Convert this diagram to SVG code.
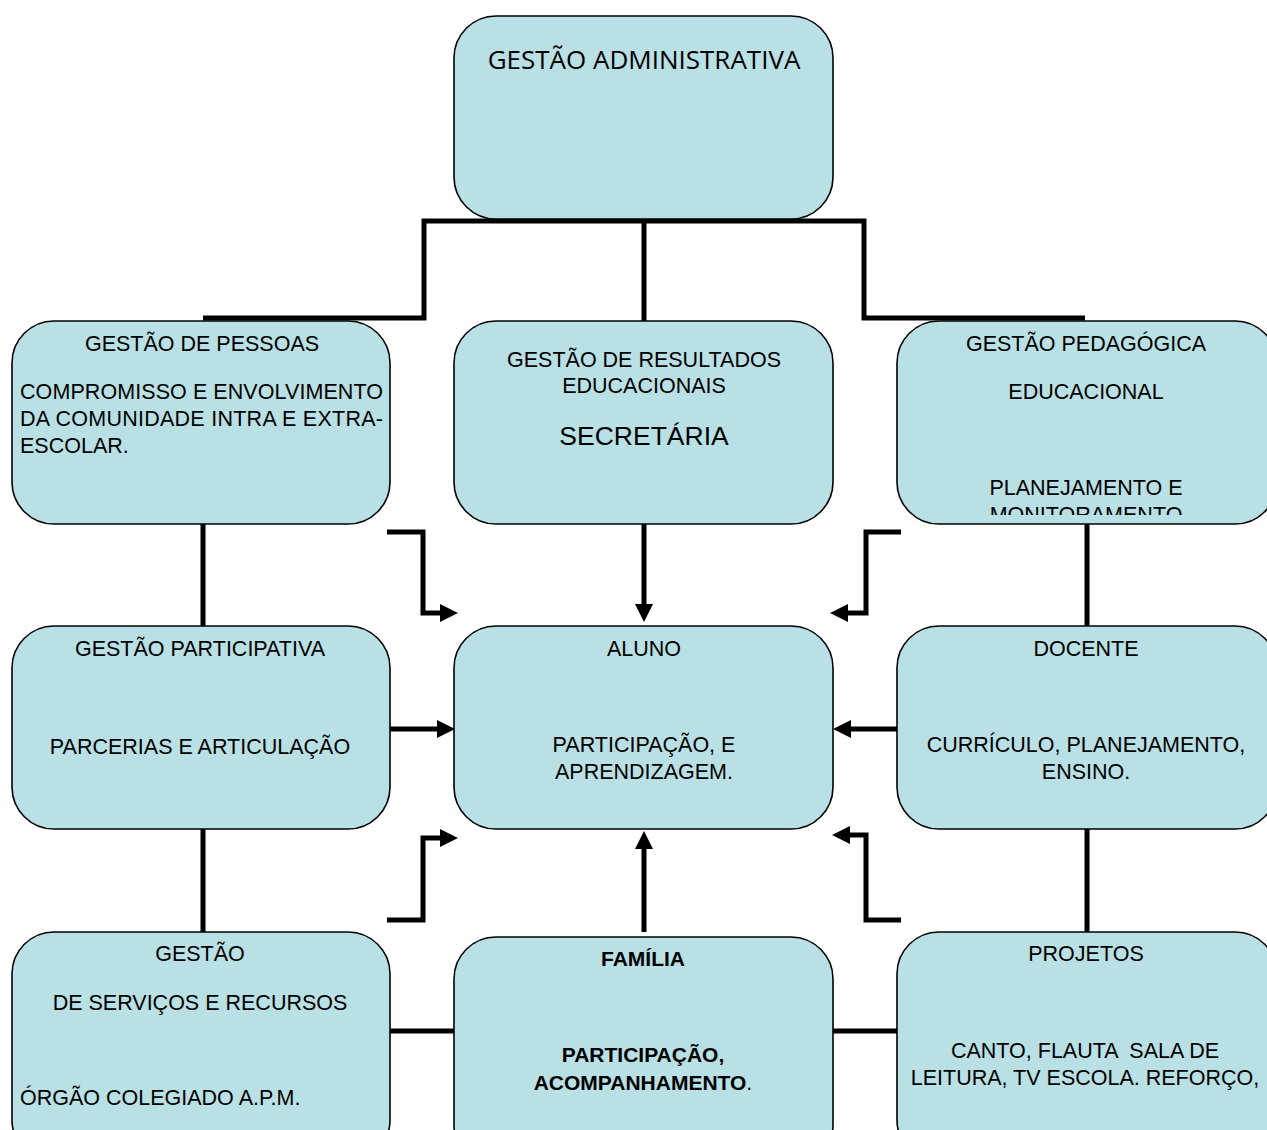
<svg xmlns="http://www.w3.org/2000/svg" width="1267" height="1130" viewBox="0 0 1267 1130">
<style>
.box{fill:#b9e0e4;stroke:#000;stroke-width:1.6}
.t{font-family:"Liberation Sans",Arial,sans-serif;font-size:21.5px;fill:#000}
.c{text-anchor:middle}
.b{font-weight:bold;font-size:21px}
.ln{fill:none;stroke:#000;stroke-width:5}
.ah{fill:#000}
</style>
<defs>
<clipPath id="clipR"><rect x="897" y="321" width="380" height="194"/></clipPath>
</defs>
<rect width="1267" height="1130" fill="#fff"/>
<g id="connectors">
<path class="ln" d="M203,318 H424 V221 H864 V318 H1085"/>
<path class="ln" d="M644,221 V321"/>
<path class="ln" d="M203,524 V626 M203,829 V932 M1087,524 V626 M1087,829 V932"/>
<path class="ln" d="M644,524 V606"/>
<polygon class="ah" points="635,604 653,604 644,622"/>
<path class="ln" d="M644,932 V847"/>
<polygon class="ah" points="635,849 653,849 644,831"/>
<path class="ln" d="M387,532 H423 V613 H443"/>
<polygon class="ah" points="440,604 440,622 458,613"/>
<path class="ln" d="M901,532 H866 V613 H846"/>
<polygon class="ah" points="848,604 848,622 830,613"/>
<path class="ln" d="M387,920 H423 V838 H443"/>
<polygon class="ah" points="440,829 440,847 458,838"/>
<path class="ln" d="M901,920 H866 V835 H848"/>
<polygon class="ah" points="850,826 850,844 832,835"/>
<path class="ln" d="M390,729 H439"/>
<polygon class="ah" points="437,720 437,738 455,729"/>
<path class="ln" d="M897,729 H849"/>
<polygon class="ah" points="851,720 851,738 833,729"/>
<path class="ln" d="M390,1031 H454 M833,1031 H897"/>
</g>
<g id="gestao-administrativa">
<rect class="box" x="454" y="16" width="379" height="203" rx="42"/>
<text x="644" y="69" class="c" style="font-family:'Open Sans','Liberation Sans',sans-serif;font-size:26px">GESTÃO ADMINISTRATIVA</text>
</g>
<g id="gestao-pessoas">
<rect class="box" x="12" y="321" width="378" height="203" rx="42"/>
<text x="202" y="351" class="t c">GESTÃO DE PESSOAS</text>
<text x="20" y="399" class="t" textLength="363" lengthAdjust="spacing">COMPROMISSO E ENVOLVIMENTO</text>
<text x="20" y="426" class="t" textLength="363" lengthAdjust="spacing">DA COMUNIDADE INTRA E EXTRA-</text>
<text x="20" y="453" class="t">ESCOLAR.</text>
</g>
<g id="gestao-resultados">
<rect class="box" x="454" y="321" width="379" height="203" rx="42"/>
<text x="644" y="367" class="t c">GESTÃO DE RESULTADOS</text>
<text x="644" y="393" class="t c">EDUCACIONAIS</text>
<text x="644" y="445" class="t c" style="font-size:26.5px">SECRETÁRIA</text>
</g>
<g id="gestao-pedagogica">
<rect class="box" x="897" y="321" width="380" height="203" rx="42"/>
<text x="1086" y="351" class="t c">GESTÃO PEDAGÓGICA</text>
<text x="1086" y="399" class="t c">EDUCACIONAL</text>
<g clip-path="url(#clipR)">
<text x="1086" y="495" class="t c">PLANEJAMENTO E</text>
<text x="1086" y="522" class="t c">MONITORAMENTO</text>
</g>
</g>
<g id="gestao-participativa">
<rect class="box" x="12" y="626" width="378" height="203" rx="42"/>
<text x="200" y="656" class="t c">GESTÃO PARTICIPATIVA</text>
<text x="200" y="754" class="t c">PARCERIAS E ARTICULAÇÃO</text>
</g>
<g id="aluno">
<rect class="box" x="454" y="626" width="379" height="203" rx="42"/>
<text x="644" y="656" class="t c">ALUNO</text>
<text x="644" y="752" class="t c">PARTICIPAÇÃO, E</text>
<text x="644" y="779" class="t c">APRENDIZAGEM.</text>
</g>
<g id="docente">
<rect class="box" x="897" y="626" width="380" height="203" rx="42"/>
<text x="1086" y="656" class="t c">DOCENTE</text>
<text x="1086" y="752" class="t c">CURRÍCULO, PLANEJAMENTO,</text>
<text x="1086" y="779" class="t c">ENSINO.</text>
</g>
<g id="gestao-servicos">
<rect class="box" x="12" y="932" width="378" height="230" rx="42"/>
<text x="200" y="961" class="t c">GESTÃO</text>
<text x="200" y="1010" class="t c">DE SERVIÇOS E RECURSOS</text>
<text x="20" y="1105" class="t">ÓRGÃO COLEGIADO A.P.M.</text>
</g>
<g id="familia">
<rect class="box" x="454" y="937" width="379" height="230" rx="42"/>
<text x="643" y="966" class="t c b">FAMÍLIA</text>
<text x="643" y="1062" class="t c b">PARTICIPAÇÃO,</text>
<text x="643" y="1090" class="t c"><tspan class="b">ACOMPANHAMENTO</tspan>.</text>
</g>
<g id="projetos">
<rect class="box" x="897" y="932" width="380" height="230" rx="42"/>
<text x="1086" y="961" class="t c">PROJETOS</text>
<text x="1085" y="1058" class="t c" xml:space="preserve">CANTO, FLAUTA  SALA DE</text>
<text x="1085" y="1085" class="t c">LEITURA, TV ESCOLA. REFORÇO,</text>
</g>
</svg>
